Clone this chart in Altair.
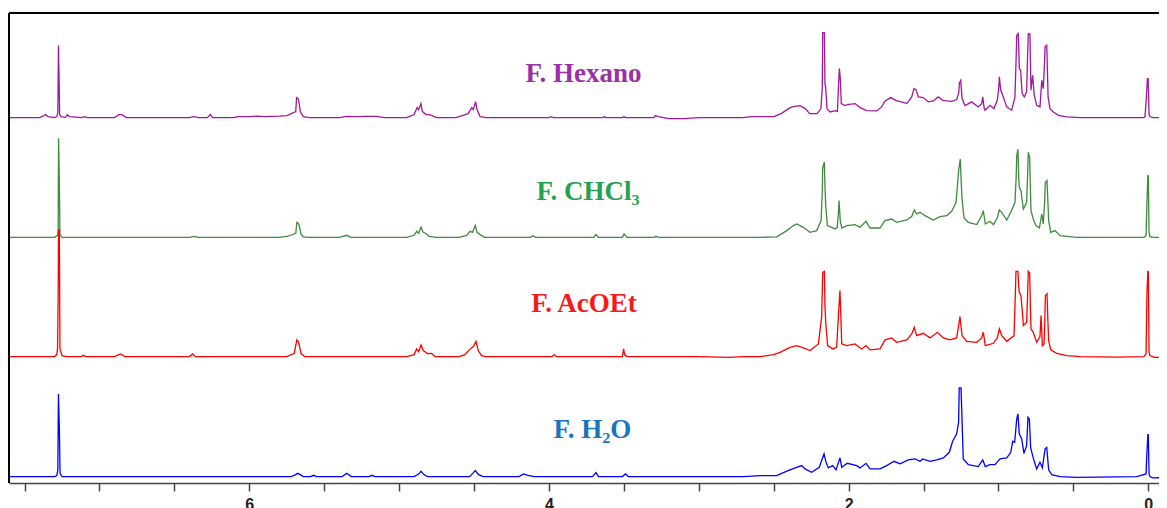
import altair as alt
import pandas as pd

# ---- data: (ppm, intensity), descending ppm ----
hexano_ppm = [7.61,7.40,7.37,7.36,7.345,7.30,7.285,7.278,7.274,7.270,7.266,7.255,7.23,7.215,7.20,7.12,7.10,7.08,6.90,6.87,6.85,6.82,6.40,6.37,6.34,6.28,6.26,6.245,6.10,6.08,6.00,5.95,5.90,5.80,5.75,5.72,5.69,5.685,5.675,5.668,5.66,5.64,5.60,5.40,5.35,5.30,5.22,5.15,5.10,4.95,4.90,4.88,4.87,4.855,4.845,4.82,4.80,4.78,4.75,4.62,4.58,4.54,4.515,4.505,4.49,4.48,4.46,4.42,4.00,3.99,3.97,3.64,3.63,3.62,3.51,3.50,3.49,3.30,3.29,3.27,3.20,3.10,3.00,2.70,2.65,2.59,2.50,2.45,2.41,2.39,2.37,2.325,2.29,2.26,2.21,2.185,2.176,2.173,2.162,2.158,2.153,2.145,2.124,2.09,2.075,2.068,2.062,2.056,2.049,2.024,2.009,1.957,1.924,1.879,1.813,1.78,1.757,1.719,1.679,1.646,1.612,1.579,1.564,1.55,1.535,1.502,1.468,1.435,1.402,1.372,1.345,1.312,1.279,1.265,1.261,1.252,1.243,1.223,1.179,1.135,1.112,1.105,1.095,1.09,1.057,1.03,1.008,0.998,0.994,0.985,0.972,0.945,0.912,0.89,0.882,0.878,0.868,0.863,0.861,0.852,0.845,0.841,0.828,0.812,0.806,0.801,0.79,0.786,0.783,0.772,0.761,0.745,0.723,0.711,0.701,0.694,0.689,0.678,0.672,0.669,0.656,0.634,0.60,0.545,0.45,0.03,0.022,0.013,0.006,0.001,-0.005,-0.011,-0.03,-0.125]
hexano_int = [0,0,2,3,1,0,1,5,72,40,3,1,0,3,1,0,1,0,0,3,3,0,0,1,0,0,3,0,0,1,1,1.5,1,1.5,2,4,6,20,19,15,6,1,0,0,1.3,1,1.3,1.3,0,0,3,10,8,14,6,3,3,2,0,0,2,4,10,8,16,8,1,0,0,1,0,0,1,0,0,1,0,0,2,1,-1,-1,0,0,1,1,1,4,8,10,11,12,9,4,4,9,30,85,85,34,30,9,5.6,7,6,31,49,40,14,12,13,14,10,7,6.7,10.7,16.7,20,16.7,15.7,14,20.7,29,28,20.7,20,15.7,16.7,20.7,17.3,16.7,16.3,18,25,34.7,37.3,19,12,15.7,10.7,14,20.7,9,7.3,12.3,9,17.3,30,40.7,27.3,22.3,10.7,7.3,20.7,60,82.3,84,60,49,47.3,30,24,20.7,26,60,84,83.3,50,27.3,42.3,22.3,12.3,10.7,37.3,29,50,70.7,72.3,40,20.7,9,5.6,2.3,0.7,0,0,1,20,39,39,3,1,0,0]

chcl3_ppm = [7.61,7.30,7.28,7.276,7.273,7.268,7.264,7.25,6.40,6.37,6.34,5.80,5.75,5.72,5.69,5.683,5.673,5.666,5.655,5.64,5.60,5.40,5.35,5.32,4.95,4.90,4.883,4.87,4.854,4.84,4.827,4.80,4.75,4.60,4.55,4.527,4.51,4.492,4.48,4.46,4.43,4.12,4.109,4.09,3.70,3.686,3.67,3.51,3.499,3.48,3.30,3.286,3.27,2.70,2.59,2.48,2.413,2.369,2.347,2.325,2.302,2.258,2.213,2.184,2.176,2.173,2.162,2.158,2.153,2.142,2.113,2.091,2.076,2.068,2.064,2.056,2.046,2.013,1.958,1.924,1.884,1.857,1.791,1.757,1.713,1.679,1.612,1.579,1.562,1.546,1.524,1.49,1.435,1.39,1.345,1.312,1.283,1.266,1.255,1.247,1.243,1.23,1.201,1.145,1.112,1.101,1.088,1.057,1.034,1.008,0.994,0.978,0.945,0.912,0.89,0.882,0.878,0.87,0.865,0.861,0.85,0.834,0.812,0.806,0.801,0.792,0.787,0.783,0.768,0.75,0.727,0.711,0.701,0.692,0.687,0.676,0.67,0.665,0.651,0.623,0.589,0.478,0.03,0.015,0.009,0.003,0.0,-0.005,-0.011,-0.03,-0.125]
chcl3_int = [0,0,2,6,99,55,3,0,0,1,0,0,1,2.3,4,14.7,14,11.3,3,0.5,0,0,2,0,0,2,6,4,10,5,4.3,1,0,0,2,6,5,12,5,2.7,0,0,1.7,0,0,2.7,0,0,3.3,0,0,1,0,0,0,0.5,6.7,11.7,13.3,11.7,10,5,6.7,16.7,45,70,75,50,31.7,11.7,10,8.3,10,25,36.7,16.7,9.3,11.7,12.7,10,16,9.3,9.3,16.7,18.3,15,17.3,20.7,27.3,23.3,25,21.7,17.3,20.7,21.7,26,35,66.7,78.3,50,38.3,19.3,15,12.7,21.7,26.7,13.3,16,12.7,19.3,27.3,25,17.3,26.7,35,60,81.7,88.3,60,50,46.7,28.3,35,60,85,80,50,26.7,18.3,11.7,9.3,23.3,13.3,35,55,56.7,35,16.7,5,6.7,1.7,0,0,1.7,35,61.7,61.7,5,0.7,0,0]

acoet_ppm = [7.61,7.30,7.285,7.28,7.276,7.273,7.268,7.264,7.25,7.22,7.12,7.108,7.09,6.90,6.86,6.83,6.40,6.378,6.36,5.75,5.70,5.683,5.673,5.666,5.655,5.63,4.95,4.90,4.883,4.87,4.854,4.839,4.81,4.783,4.76,4.60,4.56,4.538,4.505,4.487,4.472,4.45,4.42,3.98,3.966,3.95,3.51,3.502,3.495,3.48,3.00,2.80,2.70,2.59,2.50,2.458,2.391,2.347,2.302,2.258,2.202,2.18,2.173,2.162,2.158,2.153,2.14,2.106,2.08,2.067,2.058,2.052,2.046,2.013,1.958,1.913,1.884,1.857,1.791,1.757,1.713,1.679,1.612,1.579,1.562,1.546,1.502,1.457,1.408,1.368,1.324,1.279,1.262,1.257,1.243,1.212,1.145,1.112,1.101,1.088,1.034,1.008,0.994,0.978,0.945,0.896,0.888,0.883,0.87,0.865,0.861,0.85,0.838,0.834,0.812,0.806,0.801,0.792,0.787,0.783,0.768,0.745,0.723,0.716,0.707,0.696,0.69,0.687,0.676,0.67,0.665,0.651,0.611,0.545,0.45,0.20,0.03,0.015,0.009,0.003,0.0,-0.005,-0.011,-0.04,-0.125]
acoet_int = [0,0,2,8.3,60,127,127,8,1,0,0,1.3,0,0,2.7,0,0,2.7,0,0,3.3,16.7,15,11.3,3,0,0,2,7.7,5,11.7,6,3,3.3,0,0,2,6,10,15.3,6,1,0,0,2,0,0,7.7,2,0,0,-0.7,0,0,2,4.3,9.3,11,8.7,6,12.7,40,84.3,85.3,50,34.3,11,7.7,9.3,44.3,66,40,12.7,11,12.7,7.7,11,6.7,7.7,16.7,18.7,14.3,16.7,22.7,29.3,21,23.3,18.7,24.3,18.7,16.7,18.7,35,40,21,15.3,14.3,18.7,24.3,11,13.3,18.7,27.7,21,15.3,21,60,85.3,85.3,70,64.3,61,40,31,34.3,60,85.3,83.3,50,27.7,24.3,14.3,20,41,11,12.7,40,61,62.7,35,16,6.7,3.3,1,0,-0.5,0,2.7,63.3,85.3,85.3,5,1,-0.7,-0.7]

h2o_ppm = [7.61,7.30,7.285,7.278,7.274,7.268,7.263,7.25,5.72,5.69,5.677,5.66,5.64,5.59,5.573,5.55,5.38,5.35,5.32,5.20,5.183,5.16,4.90,4.87,4.854,4.835,4.81,4.53,4.51,4.492,4.47,4.44,4.20,4.17,4.14,4.10,3.71,3.686,3.67,3.51,3.49,3.47,2.70,2.59,2.48,2.447,2.391,2.347,2.313,2.291,2.247,2.196,2.164,2.151,2.136,2.106,2.084,2.058,2.046,2.009,1.946,1.924,1.884,1.857,1.791,1.746,1.697,1.657,1.602,1.557,1.524,1.506,1.457,1.412,1.368,1.328,1.306,1.279,1.266,1.262,1.25,1.243,1.235,1.201,1.135,1.105,1.088,1.057,1.023,0.99,0.945,0.918,0.905,0.892,0.878,0.87,0.861,0.845,0.83,0.812,0.803,0.794,0.785,0.768,0.745,0.723,0.707,0.689,0.678,0.665,0.645,0.589,0.478,0.077,0.015,0.009,0.003,0.0,-0.005,-0.011,-0.03,-0.125]
h2o_int = [0,0,1,6.7,82.7,48.3,3,0,0,2,3.3,2,0,0,1.3,0,0,3.3,0,0,1.3,0,0,2.5,5.3,2,0,0,3,6,2,0,0,2.7,1.3,0,0,4,0,0,2.7,0,0,1,1,3.3,6.7,9.3,11,7.7,4.3,9.3,22.7,14.3,8.7,11,6.7,18.7,9.3,13.3,11,8.7,13.3,7.7,7.7,11,15.3,12.7,16.7,17.7,15.3,17.7,15.3,16.7,18.7,24.3,35.3,42.7,54.3,88.7,88.7,56,17.7,12,10,16.7,10,12,12,17.7,18.7,24.3,35.3,34.3,57.7,62.7,42.7,37.7,23.3,31,59.3,57.7,28.7,18.7,7.7,14.3,8.7,27.7,29.3,6.7,2,0,-0.7,0,2.7,24.3,42,42,3,0,-1.3,-1]

series_names = ["F. Hexano", "F. CHCl₃", "F. AcOEt", "F. H₂O"]
line_colors = ["#A3179F", "#3F8A3F", "#FF0000", "#0000FF"]
text_colors = ["#9B2FA6", "#22A350", "#F81818", "#1B75BB"]
offsets = [365.4, 245.7, 126.4, 6.4]
tick_values = [7.5, 7, 6.5, 6, 5.5, 5, 4.5, 4, 3.5, 3, 2.5, 2, 1.5, 1, 0.5, 0]

# ---- build tables ----
all_series = [(hexano_ppm, hexano_int), (chcl3_ppm, chcl3_int),
              (acoet_ppm, acoet_int), (h2o_ppm, h2o_int)]
rows = []
for k, (pp, ii) in enumerate(all_series):
    for j, (p, v) in enumerate(zip(pp, ii)):
        rows.append({"series": series_names[k], "ppm": p, "y": v + offsets[k],
                     "c": line_colors[k], "idx": j})
df = pd.DataFrame(rows)

lab = pd.DataFrame({
    "label": series_names,
    "x": [3.77, 3.74, 3.766, 3.71],
    "y": [401.5, 283.5, 171.5, 45.0],
    "tc": text_colors,
})

W, H = 1150, 470
xscale = alt.Scale(domain=[-0.0714, 7.604], reverse=True, nice=False, zero=False)
yscale = alt.Scale(domain=[0, H], nice=False, zero=False)

lines = alt.Chart(df).mark_line(strokeWidth=1.3, clip=True).encode(
    x=alt.X("ppm:Q", scale=xscale, title=None,
            axis=alt.Axis(values=tick_values,
                          labelExpr="datum.value % 2 == 0 ? format(datum.value, 'd') : ''",
                          tickSize=8, tickWidth=1.5, tickColor="#444",
                          domainColor="#444", domainWidth=1.5, grid=False,
                          labelFont="Liberation Sans", labelFontWeight="bold",
                          labelFontSize=16, labelColor="#222", labelPadding=5)),
    y=alt.Y("y:Q", scale=yscale, axis=None),
    detail="series:N",
    color=alt.Color("c:N", scale=None),
    order="idx:Q",
)

texts = alt.Chart(lab).mark_text(font="Liberation Serif", fontWeight="bold",
                                 fontSize=27, align="center",
                                 baseline="alphabetic").encode(
    x=alt.X("x:Q", scale=xscale, title=None),
    y=alt.Y("y:Q", scale=yscale, axis=None),
    text="label:N",
    color=alt.Color("tc:N", scale=None),
)

one = pd.DataFrame({"a": [0]})
top_rule = alt.Chart(one).mark_rule(color="black", strokeWidth=2).encode(
    x=alt.value(0), x2=alt.value(W), y=alt.value(0))
left_rule = alt.Chart(one).mark_rule(color="black", strokeWidth=2).encode(
    x=alt.value(0), y=alt.value(0), y2=alt.value(H))

chart = alt.layer(lines, texts, top_rule, left_rule).properties(
    width=W, height=H,
    padding={"left": 1, "top": 5, "right": 0, "bottom": 25},
    autosize=alt.AutoSizeParams(type="none"),
).configure_view(stroke=None).configure(background="white")

chart.save("out.html", embed_options={"renderer": "svg", "actions": False})
